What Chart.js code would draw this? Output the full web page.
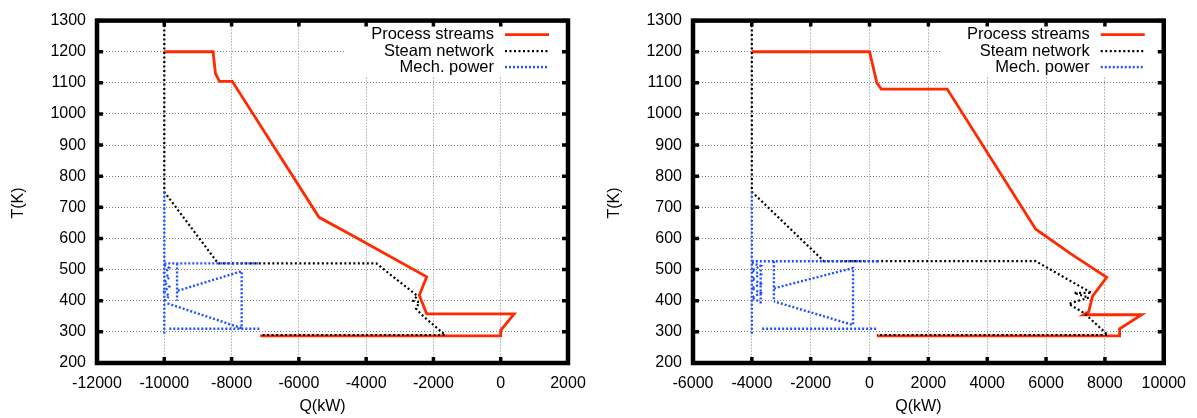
<!DOCTYPE html>
<html>
<head>
<meta charset="utf-8">
<script src="https://cdn.jsdelivr.net/npm/chart.js@4/dist/chart.umd.min.js"></script>
<style>
body { margin: 0; background: #fff; }
#wrap { display: flex; width: 1197px; height: 418px; }
.box { position: relative; height: 418px; }
</style>
</head>
<body>
<div id="wrap">
  <div class="box" style="width:598px"><canvas id="left"></canvas></div>
  <div class="box" style="width:599px"><canvas id="right"></canvas></div>
</div>
<script>
// legend labels
var seriesNames = ["Process streams", "Steam network", "Mech. power"];

// left plot (null = break in the curve)
var leftProcQ = [-10000, -8550, -8480, -8360, -7980, -5400, -4450, -2200, -2420, -2200, 400, 0, 0, -7150];
var leftProcT = [1200, 1200, 1130, 1105, 1105, 668, 612, 477, 418, 358, 358, 305, 287, 287];
var leftSteamQ = [-10000, -10000, -8400, -3700, -2480, -2600, -2420, -2520, -2300, -1650, -7150];
var leftSteamT = [1300, 750, 520, 520, 416, 400, 395, 375, 350, 290, 290];
var leftMechQ = [-10000, -10000, null, -10000, -7150, null, -9620, -9620, null,
  -9600, -7700, -7700, -9920, null, -9850, -7150, null,
  -10000, -9850, -10000, -9850, -10000, -9850, -10000, -9850, -10000];
var leftMechT = [750, 295, null, 520, 520, null, 520, 400, null,
  432, 495, 312, 392, null, 310, 310, null,
  515, 505, 490, 475, 460, 445, 430, 415, 400];

// right plot
var rightProcQ = [-4000, 0, 250, 400, 2640, 5650, 6820, 8060, 7580, 7450, 7270, 9250, 8500, 8500, 250];
var rightProcT = [1200, 1200, 1100, 1080, 1080, 630, 552, 475, 415, 365, 355, 355, 310, 287, 287];
var rightSteamQ = [-4000, -4000, -1550, 5650, 7550, 6950, 7450, 6770, 7300, 8100, 250];
var rightSteamT = [1300, 750, 527, 527, 425, 425, 410, 390, 360, 290, 290];
var rightMechQ = [-4000, -4000, null, -4000, 300, null, -3250, -3250, null,
  -3250, -560, -560, -3250, null, -3650, 250, null,
  -4000, -3700, -4000, -3700, -4000, -3700, -4000, -3700, -4000, -3700, null, -3700, -3700];
var rightMechT = [750, 290, null, 527, 527, null, 527, 400, null,
  440, 505, 322, 398, null, 310, 310, null,
  522, 512, 497, 485, 470, 455, 440, 425, 410, 395, null, 500, 390];

var FONT = '"Liberation Sans", Arial, Helvetica, sans-serif';
var RED = '#ff2a00', BLUE = '#2050ff';

function pts(q, t) {
  var out = [];
  for (var i = 0; i < q.length; i++) {
    if (q[i] === null) out.push({x: NaN, y: NaN});
    else out.push({x: q[i], y: t[i]});
  }
  return out;
}

var framePlugin = {
  id: 'frame',
  afterDraw: function(chart) {
    var ctx = chart.ctx, a = chart.chartArea;
    var sx = chart.scales.x, sy = chart.scales.y;
    ctx.save();
    // opaque key box
    ctx.fillStyle = '#fff';
    ctx.fillRect(a.right - 223, a.top + 1, 222, 54);

    ctx.font = '16.5px ' + FONT;
    ctx.fillStyle = '#000';
    ctx.textAlign = 'right';
    ctx.textBaseline = 'middle';
    var rows = [14, 30.5, 46.5];
    var styles = [
      {c: RED, w: 2.8, d: []},
      {c: '#000', w: 2.2, d: [2, 2.5]},
      {c: BLUE, w: 2.4, d: [2, 2]}
    ];
    for (var i = 0; i < 3; i++) {
      var y = a.top + rows[i];
      ctx.fillText(seriesNames[i], a.right - 74, y);
      ctx.beginPath();
      ctx.strokeStyle = styles[i].c;
      ctx.lineWidth = styles[i].w;
      ctx.setLineDash(styles[i].d);
      ctx.moveTo(a.right - 63, y);
      ctx.lineTo(a.right - 19, y);
      ctx.stroke();
    }
    ctx.setLineDash([]);

    // border and inward ticks
    ctx.strokeStyle = '#000';
    ctx.lineWidth = 4.5;
    ctx.strokeRect(a.left, a.top, a.width, a.height);
    ctx.lineWidth = 3.5;
    ctx.beginPath();
    sx.ticks.forEach(function(t) {
      var px = sx.getPixelForValue(t.value);
      ctx.moveTo(px, a.bottom); ctx.lineTo(px, a.bottom - 6);
      ctx.moveTo(px, a.top); ctx.lineTo(px, a.top + 6);
    });
    sy.ticks.forEach(function(t) {
      var py = sy.getPixelForValue(t.value);
      ctx.moveTo(a.left, py); ctx.lineTo(a.left + 6, py);
      ctx.moveTo(a.right, py); ctx.lineTo(a.right - 6, py);
    });
    ctx.stroke();

    // axis titles
    ctx.font = '16px ' + FONT;
    ctx.fillStyle = '#000';
    ctx.textAlign = 'center';
    ctx.textBaseline = 'middle';
    ctx.fillText('Q(kW)', (a.left + a.right) / 2 - 10, 407);
    ctx.translate(a.left - 78, 203);
    ctx.rotate(-Math.PI / 2);
    ctx.fillText('T(K)', 0, 0);
    ctx.restore();
  }
};

function gridColor(min, max) {
  return function(c) {
    var v = c.tick ? c.tick.value : null;
    return (v === min || v === max) ? 'rgba(0,0,0,0)' : '#808080';
  };
}

function makeChart(id, proc, steam, mech, xmin, xmax, leftW, rightPad) {
  return new Chart(document.getElementById(id), {
    type: 'scatter',
    data: {
      datasets: [
        {label: seriesNames[0], data: proc, showLine: true, borderColor: RED, borderWidth: 2.8,
         pointRadius: 0, spanGaps: false, order: 3},
        {label: seriesNames[1], data: steam, showLine: true, borderColor: '#000', borderWidth: 2.2,
         borderDash: [2, 2.5], pointRadius: 0, spanGaps: false, order: 2},
        {label: seriesNames[2], data: mech, showLine: true, borderColor: BLUE, borderWidth: 2.4,
         borderDash: [2, 2], pointRadius: 0, spanGaps: false, order: 1}
      ]
    },
    options: {
      responsive: true,
      maintainAspectRatio: false,
      animation: false,
      layout: {padding: {top: 17, right: rightPad, left: 0, bottom: 0}},
      plugins: {legend: {display: false}, tooltip: {enabled: false}},
      scales: {
        x: {
          type: 'linear', min: xmin, max: xmax,
          afterFit: function(s) { s.height = 55; },
          ticks: {stepSize: 2000, color: '#000', font: {family: FONT, size: 16}, padding: 11,
                  maxRotation: 0, autoSkip: false, callback: function(v) { return String(v); }},
          grid: {drawTicks: false, lineWidth: 1, color: gridColor(xmin, xmax)},
          border: {display: false, dash: [1, 2]}
        },
        y: {
          type: 'linear', min: 200, max: 1300,
          afterFit: function(s) { s.width = leftW; },
          ticks: {stepSize: 100, color: '#000', font: {family: FONT, size: 16}, padding: 11,
                  callback: function(v) { return String(v); }},
          grid: {drawTicks: false, lineWidth: 1, color: gridColor(200, 1300)},
          border: {display: false, dash: [1, 2]}
        }
      }
    },
    plugins: [framePlugin]
  });
}

makeChart('left', pts(leftProcQ, leftProcT), pts(leftSteamQ, leftSteamT), pts(leftMechQ, leftMechT),
  -12000, 2000, 97, 30);
makeChart('right', pts(rightProcQ, rightProcT), pts(rightSteamQ, rightSteamT), pts(rightMechQ, rightMechT),
  -6000, 10000, 95, 31);
</script>
</body>
</html>
